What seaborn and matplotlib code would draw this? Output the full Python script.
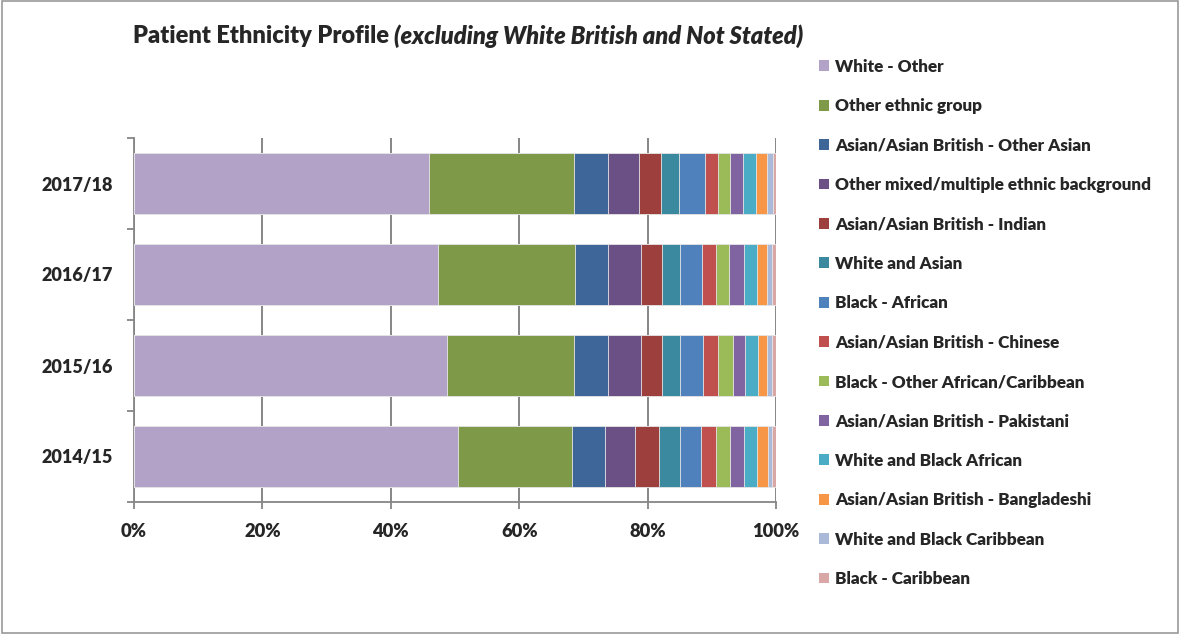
import pandas as pd
import matplotlib.pyplot as plt
import matplotlib.patches as mpatches
import seaborn as sns

years = ['2017/18', '2016/17', '2015/16', '2014/15']
groups = [
    'White - Other',
    'Other ethnic group',
    'Asian/Asian British - Other Asian',
    'Other mixed/multiple ethnic background',
    'Asian/Asian British - Indian',
    'White and Asian',
    'Black - African',
    'Asian/Asian British - Chinese',
    'Black - Other African/Caribbean',
    'Asian/Asian British - Pakistani',
    'White and Black African',
    'Asian/Asian British - Bangladeshi',
    'White and Black Caribbean',
    'Black - Caribbean',
]
# percent share per group, one list per year
pct_1718 = [45.9, 22.6, 5.3, 4.9, 3.4, 2.8, 4.1, 1.9, 1.9, 2.1, 2.0, 1.7, 0.9, 0.5]
pct_1617 = [47.4, 21.3, 5.1, 5.1, 3.3, 2.8, 3.5, 2.2, 2.0, 2.3, 2.1, 1.5, 0.8, 0.6]
pct_1516 = [48.7, 19.8, 5.3, 5.1, 3.3, 2.9, 3.6, 2.2, 2.4, 1.9, 2.0, 1.4, 0.8, 0.6]
pct_1415 = [50.4, 17.8, 5.1, 4.7, 3.7, 3.4, 3.2, 2.3, 2.3, 2.1, 2.0, 1.7, 0.7, 0.6]

colors = ['#B3A2C7', '#7E9A48', '#3E6698', '#6A5085', '#9D403D', '#3B899F', '#4F81BD',
          '#C0504D', '#9BBB59', '#8064A2', '#4BACC6', '#F79646', '#AAB9D8', '#D9A7A6']

df = pd.DataFrame([pct_1718, pct_1617, pct_1516, pct_1415], index=years, columns=groups)
cum = df.cumsum(axis=1) / 100.0

sns.set_style('white')
plt.rcParams['font.family'] = ['Lato', 'DejaVu Sans']
W = 'heavy'

fig = plt.figure(figsize=(11.8, 6.35), dpi=100)
ax = fig.add_axes([134 / 1180, 1 - 502 / 635, 642 / 1180, 364 / 635])

# stacked bars: draw cumulative totals from the back to the front
for g, c in reversed(list(zip(groups, colors))):
    d = pd.DataFrame({'year': years, 'val': cum[g].values})
    sns.barplot(data=d, x='val', y='year', orient='h', color=c, width=0.66,
                saturation=1, edgecolor='#e8e8e8', linewidth=0.6, ax=ax, zorder=3)

ax.set_xlim(0, 1)
ax.set_ylim(3.5, -0.5)
ax.set_xticks([0, 0.2, 0.4, 0.6, 0.8, 1.0])
ax.set_xticklabels(['0%', '20%', '40%', '60%', '80%', '100%'], fontsize=13.2, fontweight=W)
ax.set_yticks(range(len(years)))
ax.set_yticklabels(years, fontsize=13, fontweight=W)
ax.set_yticks([-0.5, 0.5, 1.5, 2.5, 3.5], minor=True)
ax.tick_params(axis='y', which='major', length=0, pad=15)
ax.tick_params(axis='y', which='minor', length=5, width=1.3, color='#868686', direction='out', left=True)
ax.tick_params(axis='x', which='major', length=5, width=1.3, color='#868686', direction='out', bottom=True, pad=10)
ax.set_xlabel('')
ax.set_ylabel('')
ax.grid(axis='x', color='#868686', linewidth=1.4, zorder=0)
ax.set_axisbelow(True)
for s in ['top', 'right']:
    ax.spines[s].set_visible(False)
for s in ['left', 'bottom']:
    ax.spines[s].set_color('#868686')
    ax.spines[s].set_linewidth(1.3)

# title in two pieces: regular bold then bold italic
t1 = fig.text(133 / 1180, 1 - 36 / 635, 'Patient Ethnicity Profile ', fontsize=17,
              fontweight=W, va='center', ha='left')
fig.canvas.draw()
bb = t1.get_window_extent()
fig.text(bb.x1 / fig.bbox.width, 1 - 36 / 635, '(excluding White British and Not Stated)',
         fontsize=17, fontweight=W, style='italic', va='center', ha='left')

handles = [mpatches.Patch(facecolor=c, edgecolor='none', label=g) for g, c in zip(groups, colors)]
fig.legend(handles=handles, loc='upper left', bbox_to_anchor=(812 / 1180, 1 - 52 / 635),
           frameon=False, prop={'size': 12.3, 'weight': W}, handlelength=0.6,
           handleheight=0.6, handletextpad=0.35, labelspacing=1.37, borderaxespad=0)

fig.add_artist(mpatches.Rectangle((0.0015, 0.003), 0.997, 0.995, transform=fig.transFigure,
                                  fill=False, edgecolor='#9a9a9a', linewidth=1.2))

fig.savefig('out.png', dpi=100)
